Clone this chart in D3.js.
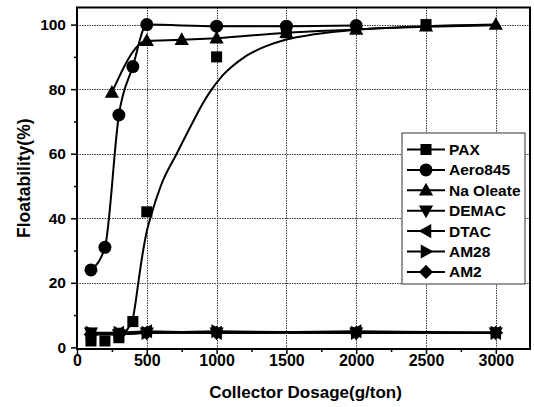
<!DOCTYPE html>
<html>
<head>
<meta charset="utf-8">
<script src="https://cdn.jsdelivr.net/npm/d3@7/dist/d3.min.js"></script>
<style>
  html, body { margin: 0; padding: 0; background: #fff; }
  svg { display: block; }
  text { font-family: "Liberation Sans", Arial, sans-serif; font-weight: bold; fill: #000; }
</style>
</head>
<body>
<svg id="chart" width="534" height="407"></svg>
<script>
// Collector dosage (g/ton) and floatability (%) for each collector
const paxDose = [100, 200, 300, 400, 500, 1000, 1500, 2500];
const paxFloat = [2, 2, 3, 8, 42, 90, 97.5, 100];
// fitted flotation curve for PAX
const paxFitDose = [300, 350, 400, 420, 439, 470, 500, 525, 600, 714, 820, 900, 955, 1030, 1100, 1215, 1360, 1500, 1700, 2000, 2500, 3000];
const paxFitFloat = [3.5, 5, 9, 14, 20, 29, 36, 40, 50, 60, 69, 75.5, 79.3, 83.6, 86.6, 90.4, 93.4, 95.4, 97, 98.4, 99.3, 99.8];

const aeroDose = [100, 200, 300, 400, 500, 1000, 1500, 2000];
const aeroFloat = [24, 31, 72, 87, 100, 99.5, 99.5, 99.7];

const oleateDose = [250, 500, 750, 1000, 1500, 2000, 2500, 3000];
const oleateFloat = [79, 95, 95.3, 95.8, 97.5, 98.5, 99.5, 100];

const lowDose = [100, 300, 500, 1000, 2000, 3000];
const demacFloat = [4.5, 4, 4.5, 4.5, 4.5, 4.5];
const dtacFloat = [4, 4.5, 5, 4.5, 5, 4.5];
const am28Float = [4.5, 4.5, 4.5, 5, 4.5, 4.5];
const am2Float = [4, 4, 4.5, 4.5, 4.5, 4.5];

const seriesNames = ["PAX", "Aero845", "Na Oleate", "DEMAC", "DTAC", "AM28", "AM2"];
const seriesShapes = ["square", "circle", "triUp", "triDown", "triLeft", "triRight", "diamond"];

const xTicks = [0, 500, 1000, 1500, 2000, 2500, 3000];
const yTicks = [0, 20, 40, 60, 80, 100];
const xTitle = "Collector Dosage(g/ton)";
const yTitle = "Floatability(%)";

const zip = (xs, ys) => xs.map((v, i) => [v, ys[i]]);

const series = [
  { pts: zip(paxDose, paxFloat), line: null },
  { pts: zip(aeroDose, aeroFloat), line: "smooth" },
  { pts: zip(oleateDose, oleateFloat), line: "smooth" },
  { pts: zip(lowDose, demacFloat), line: "straight" },
  { pts: zip(lowDose, dtacFloat), line: "straight" },
  { pts: zip(lowDose, am28Float), line: "straight" },
  { pts: zip(lowDose, am2Float), line: "straight" }
].map((s, i) => Object.assign(s, { name: seriesNames[i], shape: seriesShapes[i] }));

const svg = d3.select("#chart");
const plotL = 77, plotR = 530, plotT = 7.5, plotB = 349;

const x = d3.scaleLinear().domain([0, 3245]).range([plotL, plotR]);
const y = d3.scaleLinear().domain([-0.5, 105.3]).range([plotB, plotT]);

// dotted grid at major ticks
const grid = svg.append("g").attr("class", "grid");
xTicks.filter(d => d > 0).forEach(d => {
  const px = Math.round(x(d)) + 0.5;
  grid.append("line")
    .attr("x1", px).attr("x2", px).attr("y1", plotT).attr("y2", plotB)
    .attr("stroke", "#3a3a3a").attr("stroke-width", 1).attr("stroke-dasharray", "1.5,1");
});
yTicks.filter(d => d > 0).forEach(d => {
  const py = Math.round(y(d)) + 0.5;
  grid.append("line")
    .attr("x1", plotL).attr("x2", plotR).attr("y1", py).attr("y2", py)
    .attr("stroke", "#3a3a3a").attr("stroke-width", 1).attr("stroke-dasharray", "1.5,1");
});

// axes
const xAxis = svg.append("g").attr("transform", `translate(0,${plotB})`)
  .call(d3.axisBottom(x).tickValues(xTicks).tickSize(5).tickPadding(1).tickFormat(d3.format("d")));
svg.append("g").attr("transform", `translate(0,${plotB})`)
  .call(d3.axisBottom(x).tickValues(d3.range(250, 3250, 500)).tickSize(3).tickFormat(""));
const yAxis = svg.append("g").attr("transform", `translate(${plotL},0)`)
  .call(d3.axisLeft(y).tickValues(yTicks).tickSize(6).tickPadding(5).tickFormat(d3.format("d")));
svg.append("g").attr("transform", `translate(${plotL},0)`)
  .call(d3.axisLeft(y).tickValues(d3.range(10, 110, 20)).tickSize(3).tickFormat(""));

svg.selectAll(".tick line").attr("stroke", "#000").attr("stroke-width", 1.5);
svg.selectAll(".domain").remove();
xAxis.selectAll("text").style("font-size", "16px").style("font-family", "Liberation Sans, Arial, sans-serif").style("font-weight", "bold");
yAxis.selectAll("text").style("font-size", "15.5px").style("font-family", "Liberation Sans, Arial, sans-serif").style("font-weight", "bold");

// frame
svg.append("rect").attr("x", plotL).attr("y", plotT).attr("width", plotR - plotL).attr("height", plotB - plotT)
  .attr("fill", "none").attr("stroke", "#000").attr("stroke-width", 2);

// axis titles
svg.append("text").attr("x", (plotL + plotR) / 2 + 2).attr("y", 398).attr("text-anchor", "middle")
  .style("font-size", "17px").text(xTitle);
svg.append("text").attr("transform", `translate(30,${(plotT + plotB) / 2}) rotate(-90)`).attr("text-anchor", "middle")
  .style("font-size", "17.5px").text(yTitle);

// marker shapes
function markerPath(shape, r) {
  const p = d3.path();
  if (shape === "circle") { p.arc(0, 0, r, 0, 2 * Math.PI); }
  else if (shape === "square") { const h = r * 0.85; p.rect(-h, -h, 2 * h, 2 * h); }
  else if (shape === "diamond") { const h = r * 1.1; p.moveTo(0, -h); p.lineTo(h, 0); p.lineTo(0, h); p.lineTo(-h, 0); p.closePath(); }
  else {
    const a = r * 1.15, b = r * 0.95;
    const base = [[0, -a], [b * 1.15, b * 0.85], [-b * 1.15, b * 0.85]];
    const rot = { triUp: 0, triRight: 90, triDown: 180, triLeft: 270 }[shape] * Math.PI / 180;
    base.forEach(([px, py], i) => {
      const qx = px * Math.cos(rot) - py * Math.sin(rot);
      const qy = px * Math.sin(rot) + py * Math.cos(rot);
      if (i === 0) p.moveTo(qx, qy); else p.lineTo(qx, qy);
    });
    p.closePath();
  }
  return p.toString();
}

const plot = svg.append("g");

// PAX fitted curve
plot.append("path")
  .datum(zip(paxFitDose, paxFitFloat))
  .attr("fill", "none").attr("stroke", "#000").attr("stroke-width", 2)
  .attr("d", d3.line().x(d => x(d[0])).y(d => y(d[1])).curve(d3.curveMonotoneX));

series.forEach(s => {
  if (!s.line) return;
  plot.append("path").datum(s.pts)
    .attr("fill", "none").attr("stroke", "#000").attr("stroke-width", 2)
    .attr("d", d3.line().x(d => x(d[0])).y(d => y(d[1]))
      .curve(s.line === "smooth" ? d3.curveMonotoneX : d3.curveLinear));
});

series.forEach(s => {
  plot.selectAll(null).data(s.pts).join("path")
    .attr("transform", d => `translate(${x(d[0])},${y(d[1])})`)
    .attr("d", markerPath(s.shape, 6.5))
    .attr("fill", "#000");
});

// legend
const lg = svg.append("g");
lg.append("rect").attr("x", 402).attr("y", 133).attr("width", 123).attr("height", 151)
  .attr("fill", "#fff").attr("stroke", "#333").attr("stroke-width", 1);
series.forEach((s, i) => {
  const cy = 149.5 + i * 20.4;
  lg.append("line").attr("x1", 407).attr("x2", 445).attr("y1", cy).attr("y2", cy)
    .attr("stroke", "#000").attr("stroke-width", 2);
  lg.append("path").attr("transform", `translate(426,${cy})`).attr("d", markerPath(s.shape, 6.5)).attr("fill", "#000");
  lg.append("text").attr("x", 449).attr("y", cy + 5.5).style("font-size", "15.5px").text(s.name);
});
</script>
</body>
</html>
